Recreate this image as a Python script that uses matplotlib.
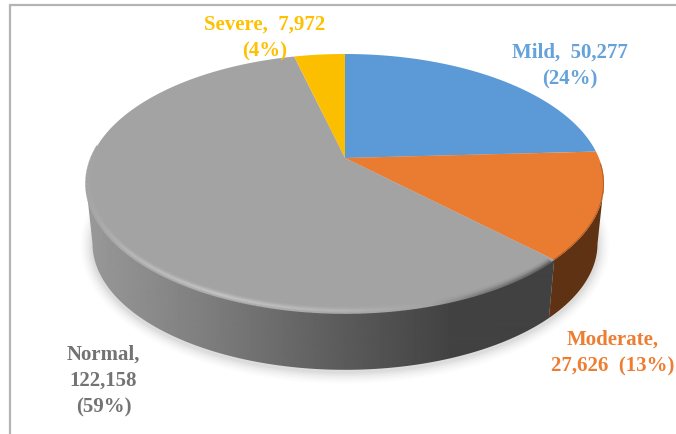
"""
Perspective 3D pie of severity counts.
"""

import matplotlib

matplotlib.use("Agg")

import matplotlib.pyplot as plt
from matplotlib.patches import Polygon
import numpy as np

# data
categories = ["Mild", "Moderate", "Normal", "Severe"]
counts = [50277, 27626, 122158, 7972]
label_texts = [
    "Mild,  50,277\n(24%)",
    "Moderate,\n27,626  (13%)",
    "Normal,\n122,158\n(59%)",
    "Severe,  7,972\n(4%)",
]

top_colors = ["#5b9ad6", "#ea7c31", "#a3a3a3", "#fcbf00"]
label_colors = ["#64a2da", "#ed7d31", "#737373", "#ffc000"]
label_pos = [(570, 66), (613, 353), (103.5, 381), (265, 38)]

# projection of the pie disc, pixels
APEX_X, APEX_Y = 345, 158
PERSP = 0.197
SCALE_X, SCALE_Y = 253.9, 124.5
ELL_X, ELL_Y = 345, 184
ELL_RX, ELL_RY = 259, 130
DEPTH = 60
BOTTOM_SHRINK = 0.975
# where the disc outline is widest, clockwise from 12 o'clock
THETA_RIGHT = np.pi / 2 + 0.2
THETA_LEFT = 3 * np.pi / 2 - 0.2


def top_point(theta):
    # theta is clockwise from 12 o'clock, radians
    u, v = np.sin(theta), np.cos(theta)
    w = 1 + PERSP * v
    return APEX_X + SCALE_X * u / w, APEX_Y - SCALE_Y * v / w


def bottom_point(theta):
    x, y = top_point(theta)
    return (
        ELL_X + (x - ELL_X) * BOTTOM_SHRINK,
        ELL_Y + (y - ELL_Y) * BOTTOM_SHRINK + DEPTH,
    )


def inset_point(theta, offset):
    # a point on the rim moved inwards by about offset pixels
    x, y = top_point(theta)
    return (
        ELL_X + (x - ELL_X) * (1 - offset / ELL_RX),
        ELL_Y + (y - ELL_Y) * (1 - offset / ELL_RY),
    )


def wall_polygon(t_start, t_end):
    thetas = np.linspace(t_start, t_end, 200)
    x, y = top_point(thetas)
    bx, by = bottom_point(thetas)
    return np.column_stack([np.r_[x, bx[::-1]], np.r_[y, by[::-1]]])


def blend(rgb, mix):
    # mix > 0 goes to white, mix < 0 goes to black
    target = 1.0 if mix > 0 else 0.0
    return tuple(c + (target - c) * abs(mix) for c in rgb)


fractions = np.array(counts) / np.sum(counts)
edges = np.concatenate([[0], np.cumsum(fractions)]) * 2 * np.pi

fig = plt.figure(figsize=(6.76, 4.34), dpi=100)
ax = fig.add_axes([0, 0, 1, 1])
ax.set_xlim(0, 676)
ax.set_ylim(434, 0)
ax.axis("off")

# frame
ax.plot([10, 10, 676], [434, 5, 5], color="#b4b4b4", lw=1.6, solid_joinstyle="miter")

# soft shadow under the disc
circle = np.linspace(0, 2 * np.pi, 200)
sx, sy = bottom_point(circle)
for grow, alpha in zip(
    [12, 10, 8, 6, 4, 2],
    [0.012, 0.016, 0.02, 0.025, 0.03, 0.035],
):
    ax.fill(
        ELL_X + (sx - ELL_X) * (1 + grow / 253),
        ELL_Y + DEPTH + (sy - ELL_Y - DEPTH) * (1 + grow / 127) + 2,
        color="black",
        alpha=alpha,
        lw=0,
    )

# side wall: brown part, then grey part with a left to right gradient
ax.add_patch(
    Polygon(
        wall_polygon(THETA_RIGHT, edges[2]),
        closed=True,
        facecolor="#5f3213",
        edgecolor="none",
        zorder=2,
    )
)
grey_patch = Polygon(
    wall_polygon(edges[2], THETA_LEFT),
    closed=True,
    facecolor="none",
    edgecolor="none",
    zorder=2,
)
ax.add_patch(grey_patch)
grad_x = np.arange(80, 560)
grad = np.interp(grad_x, [86, 200, 340, 450, 560], [0.60, 0.50, 0.36, 0.26, 0.255])
image = ax.imshow(
    grad[np.newaxis, :],
    extent=(80, 560, 434, 0),
    cmap="gray",
    vmin=0,
    vmax=1,
    aspect="auto",
    interpolation="bilinear",
    zorder=2,
)
image.set_clip_path(grey_patch)

# top face
for i in range(len(counts)):
    thetas = np.linspace(edges[i], edges[i + 1], 120)
    x, y = top_point(thetas)
    ax.fill(
        np.r_[APEX_X, x],
        np.r_[APEX_Y, y],
        color=top_colors[i],
        lw=0,
        zorder=3,
    )

# bevel along the front rim of the grey slice, soft layers from inside to edge
base = (0.64, 0.64, 0.64)
rim = np.linspace(edges[2] + 0.015, THETA_LEFT + 0.3, 240)
for offset, weight in zip([6, 5, 4, 3, 2, 1, 0], [0.1, 0.25, 0.5, 0.8, 1.0, 0.7, 0.3]):
    rim_x, rim_y = inset_point(rim, offset)
    for j in range(len(rim) - 1):
        mid_x = (rim_x[j] + rim_x[j + 1]) / 2
        mix = np.interp(
            mid_x,
            [90, 130, 220, 340, 430, 480, 552],
            [0.05, 0.25, 0.38, 0.2, 0.0, -0.2, -0.35],
        )
        # fade out past the widest point on the left
        mix *= np.interp(rim[j], [THETA_LEFT - 0.1, THETA_LEFT + 0.3], [1, 0])
        # dark side of the rim is pressed to the edge, light side sits inside
        if mix < 0:
            amount = mix * (1.1 - offset / 6) ** 2
        else:
            amount = mix * weight
        ax.plot(
            rim_x[j : j + 2],
            rim_y[j : j + 2],
            color=blend(base, amount),
            lw=1.2,
            solid_capstyle="butt",
            zorder=4,
        )

# thin dark rim on the orange slice
rim_orange = np.linspace(edges[1] + 0.1, edges[2], 80)
orange_x, orange_y = inset_point(rim_orange, 0.5)
ax.plot(orange_x, orange_y, color="#b8622a", lw=0.8, zorder=4)

for text, pos, color in zip(label_texts, label_pos, label_colors):
    ax.text(
        pos[0],
        pos[1],
        text,
        ha="center",
        va="center",
        color=color,
        fontsize=15,
        fontweight="bold",
        family="Liberation Serif",
        linespacing=1.46,
        zorder=5,
    )

fig.savefig("out.png", dpi=100)
plt.close(fig)
